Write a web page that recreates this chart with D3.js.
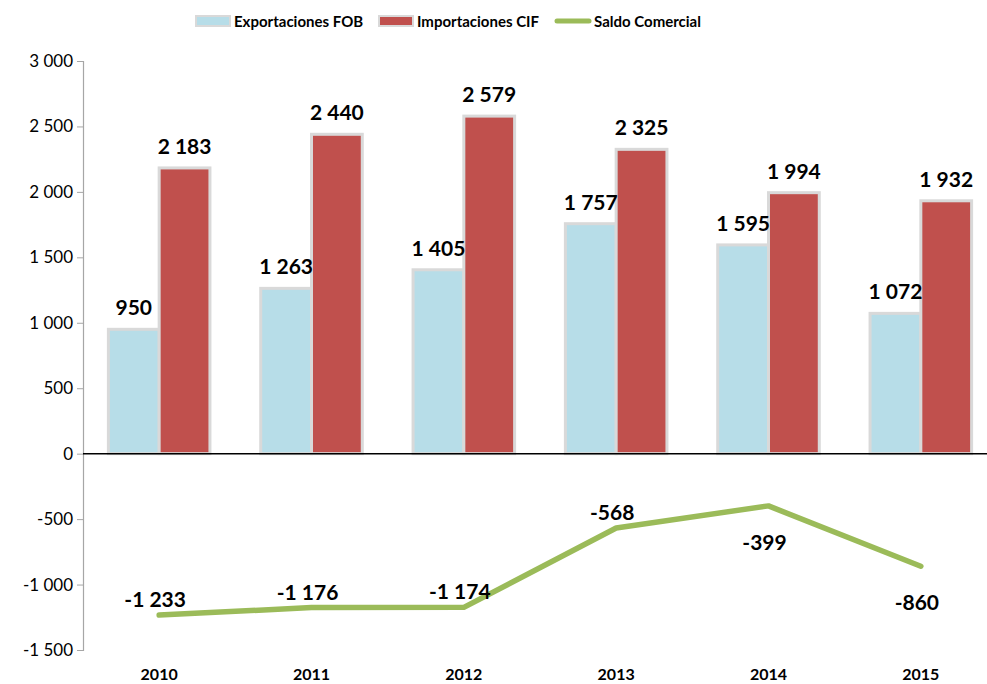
<!DOCTYPE html>
<html>
<head>
<meta charset="utf-8">
<script src="https://cdn.jsdelivr.net/npm/d3@7"></script>
<style>
  body { margin: 0; background: #fff; }
  svg text { font-family: Lato, "Open Sans", sans-serif; fill: #000; }
</style>
</head>
<body>
<div id="chart"></div>
<script>
// data
const YEARS = ["2010", "2011", "2012", "2013", "2014", "2015"];
const EXPORTS = [950, 1263, 1405, 1757, 1595, 1072];
const IMPORTS = [2183, 2440, 2579, 2325, 1994, 1932];
const BALANCE = [-1233, -1176, -1174, -568, -399, -860];
const Y_TICKS = [3000, 2500, 2000, 1500, 1000, 500, 0, -500, -1000, -1500];
// which balance labels sit under the line
const BELOW = ["2014", "2015"];

const W = 987, H = 684;
// spaces as thousands separator, plain hyphen for negatives
const fmt = v => (v < 0 ? "-" : "") + d3.format(",")(Math.abs(v)).replace(/,/g, " ");

const svg = d3.select("#chart").append("svg").attr("width", W).attr("height", H);

const x = d3.scaleBand().domain(YEARS).range([83, 997]).paddingInner(0).paddingOuter(0);
const xs = d3.scaleBand().domain(["exp", "imp"]).range([0, x.bandwidth()]).paddingInner(0).paddingOuter(0.5);
const y = d3.scaleLinear().domain([-1500, 3000]).range([650, 61]);

// y axis
const yAxis = svg.append("g").attr("transform", "translate(83,0)")
    .call(d3.axisLeft(y).tickValues(Y_TICKS).tickSize(6).tickPadding(4).tickFormat(fmt));
yAxis.select(".domain").attr("stroke", "#a6a6a6").attr("stroke-width", 1.2);
yAxis.selectAll(".tick line").attr("stroke", "#a6a6a6");
yAxis.selectAll(".tick text").style("font-size", "17px").attr("fill", "#000");

// bars
const groups = svg.selectAll("g.yr").data(YEARS).join("g").attr("class", "yr")
    .attr("transform", d => `translate(${x(d)},0)`);

groups.append("rect")
    .attr("x", xs("exp")).attr("width", xs.bandwidth())
    .attr("y", (d, i) => y(EXPORTS[i])).attr("height", (d, i) => y(0) - y(EXPORTS[i]))
    .attr("fill", "#b7dde8").attr("stroke", "#d9d9d9").attr("stroke-width", 3);
groups.append("rect")
    .attr("x", xs("imp")).attr("width", xs.bandwidth())
    .attr("y", (d, i) => y(IMPORTS[i])).attr("height", (d, i) => y(0) - y(IMPORTS[i]))
    .attr("fill", "#c0504d").attr("stroke", "#d9d9d9").attr("stroke-width", 3);

groups.append("text")
    .attr("x", xs("exp") + xs.bandwidth() / 2).attr("y", (d, i) => y(EXPORTS[i]) - 14)
    .attr("text-anchor", "middle").style("font-size", "21px").style("font-weight", "bold")
    .text((d, i) => fmt(EXPORTS[i]));
groups.append("text")
    .attr("x", xs("imp") + xs.bandwidth() / 2).attr("y", (d, i) => y(IMPORTS[i]) - 14)
    .attr("text-anchor", "middle").style("font-size", "21px").style("font-weight", "bold")
    .text((d, i) => fmt(IMPORTS[i]));

// zero line
svg.append("line").attr("x1", 83).attr("x2", W).attr("y1", y(0)).attr("y2", y(0))
    .attr("stroke", "#000").attr("stroke-width", 1.5);

// balance line
const cx = d => x(d) + x.bandwidth() / 2;
const line = d3.line().x((d, i) => cx(YEARS[i])).y(d => y(d));
svg.append("path").datum(BALANCE).attr("d", line)
    .attr("fill", "none").attr("stroke", "#9bbb59").attr("stroke-width", 5.5)
    .attr("stroke-linecap", "round").attr("stroke-linejoin", "round");

svg.selectAll("text.bal").data(YEARS).join("text").attr("class", "bal")
    .attr("x", d => cx(d) - 4)
    .attr("y", (d, i) => BELOW.includes(d) ? y(BALANCE[i]) + 44 : y(BALANCE[i]) - 8)
    .attr("text-anchor", "middle").style("font-size", "21px").style("font-weight", "bold")
    .text((d, i) => fmt(BALANCE[i]));

// category labels
svg.selectAll("text.cat").data(YEARS).join("text").attr("class", "cat")
    .attr("x", d => cx(d)).attr("y", 680)
    .attr("text-anchor", "middle").style("font-size", "16px").style("font-weight", "bold")
    .text(d => d);

// legend
const legend = [
  { name: "Exportaciones FOB", kind: "bar", color: "#b7dde8", x: 195 },
  { name: "Importaciones CIF", kind: "bar", color: "#c0504d", x: 378 },
  { name: "Saldo Comercial", kind: "line", color: "#9bbb59", x: 555 }
];
const lg = svg.selectAll("g.lg").data(legend).join("g").attr("class", "lg")
    .attr("transform", d => `translate(${d.x},21)`);
lg.filter(d => d.kind === "bar").append("rect")
    .attr("x", 1).attr("y", -5).attr("width", 34).attr("height", 10)
    .attr("fill", d => d.color).attr("stroke", "#d9d9d9").attr("stroke-width", 2);
lg.filter(d => d.kind === "line").append("line")
    .attr("x1", 2).attr("x2", 34).attr("y1", 0).attr("y2", 0)
    .attr("stroke", d => d.color).attr("stroke-width", 5).attr("stroke-linecap", "round");
lg.append("text").attr("x", 39).attr("y", 6)
    .style("font-size", "15px").style("font-weight", "bold")
    .text(d => d.name);
</script>
</body>
</html>
